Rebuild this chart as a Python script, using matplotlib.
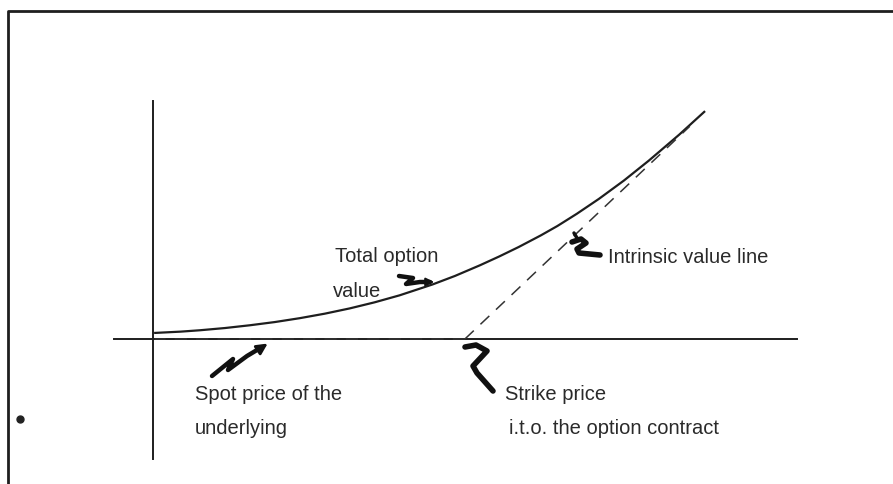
import numpy as np
import matplotlib.pyplot as plt

# option value diagram (spot price on x, value on y, arbitrary units)
spot = [0.4, 5, 8.5, 13, 17.5, 22, 26.5, 31, 35.5, 40, 44.5, 50.5, 54.5, 59,
        62.5, 66, 70, 73, 76.5, 80.5, 85, 89.5, 95, 99.5]
total_value = [1.1, 1.33, 1.58, 1.98, 2.48, 3.06, 3.76, 4.57, 5.52, 6.62, 7.88, 9.86,
               11.38, 13.3, 14.9, 16.6, 18.7, 20.4, 22.6, 25.3, 28.6, 32.2, 36.9, 41.0]
strike = 56.3
intrinsic_spot = [0.4, strike, 96.9]
intrinsic_value = [0, 0, 38.4]

plt.rcParams['font.family'] = ['Liberation Sans', 'DejaVu Sans']

W, H = 893, 485
x0, y0, scale = 153, 340, 5.54  # pixel position of origin, px per unit

def px(x, y):
    # pixel position -> data units
    return (x - x0) / scale, (y0 - y) / scale

fig = plt.figure(figsize=(W / 100, H / 100), dpi=100)
ax = fig.add_axes([0, 0, 1, 1])
ax.set_xlim(px(0, 0)[0], px(W, 0)[0])
ax.set_ylim(px(0, H)[1], px(0, 0)[1])
ax.axis("off")

ink = "#1e1e1e"

# frame (left and top only, as scanned)
bx, by = zip(px(8, H), px(8, 12), px(W, 12))
ax.plot(bx, by, color=ink, lw=2, solid_capstyle="butt")

# axes lines
ax.plot([px(114, 0)[0], px(797, 0)[0]], [0, 0], color=ink, lw=1.4)
ax.plot([0, 0], [px(0, 102)[1], px(0, 460)[1]], color=ink, lw=1.4)

# curves
ax.plot(spot, total_value, color=ink, lw=1.6)
dash = dict(color="#333333", lw=1.1, linestyle=(0, (8, 6)))
ax.plot(intrinsic_spot[:2][::-1], intrinsic_value[:2], **dash)
ax.plot(intrinsic_spot[1:], intrinsic_value[1:], **dash)

# labels
tkw = dict(color="#2a2a2a", fontsize=14.5, va="baseline", ha="left")
ax.text(*px(335, 262), "Total option", **tkw)
ax.text(*px(333, 297), "value", **tkw)
ax.text(*px(608, 263), "Intrinsic value line", **tkw)
ax.text(*px(195, 400), "Spot price of the", **tkw)
ax.text(*px(195, 434), "underlying", **tkw)
ax.text(*px(505, 400), "Strike price", **tkw)
ax.text(*px(509, 434), "i.t.o. the option contract", **tkw)

# hand drawn pointers
def stroke(points, lw=3.2):
    xs, ys = zip(*[px(a, b) for a, b in points])
    ax.plot(xs, ys, color="#111111", lw=lw, solid_capstyle="round",
            solid_joinstyle="round")

stroke([(212, 377), (233, 360), (228, 371), (247, 357), (262, 348)])
ax.annotate("", xy=px(270, 343), xytext=px(258, 351),
            arrowprops=dict(arrowstyle="-|>", color="#111111", lw=2,
                            mutation_scale=16))
stroke([(399, 277), (413, 279), (406, 285), (420, 283), (430, 283)])
ax.annotate("", xy=px(437, 283), xytext=px(426, 283),
            arrowprops=dict(arrowstyle="-|>", color="#111111", lw=1.5,
                            mutation_scale=12))
stroke([(465, 348), (476, 346), (487, 352), (473, 367), (477, 374), (493, 392)], lw=4)
stroke([(572, 243), (581, 240), (586, 244), (577, 250), (579, 254), (600, 256)], lw=4)
stroke([(574, 234), (577, 239)], lw=2.5)

# stray dot from the scan
ax.plot(*px(20, 420), "o", color="#222222", ms=5)

fig.savefig("out.png", dpi=100)
